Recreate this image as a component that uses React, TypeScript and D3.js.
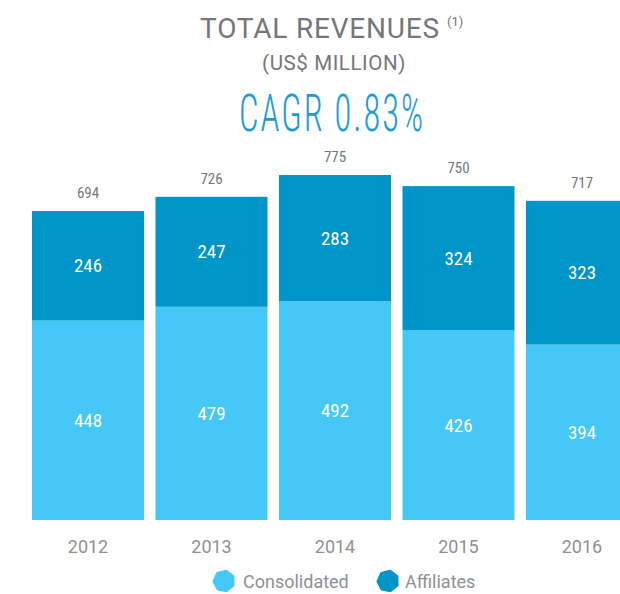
import React from "react";
import * as d3 from "d3";

const years = ["2012", "2013", "2014", "2015", "2016"];
const consolidated = [448, 479, 492, 426, 394];
const affiliates = [246, 247, 283, 324, 323];
const totals = [694, 726, 775, 750, 717];
const seriesNames = ["Consolidated", "Affiliates"];

const W = 620;
const H = 594;
const LIGHT = "#45C8F5";
const DARK = "#0095C8";
const GRAY = "#75767a";
const LGRAY = "#8f9094";
const COND = "'Roboto Condensed', 'Liberation Sans Narrow', 'DejaVu Sans Condensed', Roboto, sans-serif";

function heptagon(cx: number, cy: number, r: number) {
  const pts: [number, number][] = [];
  for (let i = 0; i < 7; i++) {
    const a = -Math.PI / 2 + (i * 2 * Math.PI) / 7 + 0.2;
    pts.push([cx + r * Math.cos(a), cy + r * Math.sin(a)]);
  }
  return pts.map((p) => p.join(",")).join(" ");
}

export default function App() {
  const x = d3.scaleBand<string>().domain(years).range([32, 638]).paddingInner(0.093).paddingOuter(0);
  const y = d3.scaleLinear().domain([0, 775]).range([520, 175]);
  const bw = x.bandwidth();

  const rows = years.map((yr, i) => ({ yr, c: consolidated[i], a: affiliates[i], t: totals[i] }));
  const stack = d3.stack<any>().keys(["c", "a"])(rows);

  return (
    <svg width={W} height={H} style={{ position: "absolute", left: 0, top: 0, background: "#fff" }} fontFamily="Roboto, sans-serif">
      <text x={320} y={38} textAnchor="middle" fontSize={28} letterSpacing={0.8} fill={GRAY}>TOTAL REVENUES</text>
      <text x={447} y={26} fontSize={13} fill={GRAY}>(1)</text>
      <text x={334} y={70} textAnchor="middle" fontSize={20.5} letterSpacing={0.6} fill={GRAY}>(US$ MILLION)</text>
      <text x={332} y={131} textAnchor="middle" fontSize={52} fill="#1A9AD6" fontFamily={COND} fontWeight={300} letterSpacing={3}
        textLength={186} lengthAdjust="spacingAndGlyphs">CAGR 0.83%</text>

      {stack.map((layer, li) => (
        <g key={li} fill={li === 0 ? LIGHT : DARK}>
          {layer.map((d, i) => (
            <rect key={i} x={x(years[i])} y={y(d[1])} width={bw} height={y(d[0]) - y(d[1])} />
          ))}
        </g>
      ))}
      {stack.map((layer, li) => (
        <g key={"l" + li}>
          {layer.map((d, i) => (
            <text key={i} x={(x(years[i]) as number) + bw / 2} y={(y(d[0]) + y(d[1])) / 2} dy="0.35em"
              textAnchor="middle" fontSize={19} fill="#fff" fontFamily={COND}>
              {li === 0 ? consolidated[i] : affiliates[i]}
            </text>
          ))}
        </g>
      ))}
      {rows.map((r, i) => (
        <text key={"t" + i} x={(x(r.yr) as number) + bw / 2} y={y(r.t) - 13} textAnchor="middle" fontSize={15}
          fill={GRAY} fontFamily={COND}>{r.t}</text>
      ))}
      {years.map((yr) => (
        <text key={yr} x={(x(yr) as number) + bw / 2} y={553} textAnchor="middle" fontSize={18} fill={LGRAY}>{yr}</text>
      ))}

      <polygon points={heptagon(224, 581, 10)} fill={LIGHT} stroke={LIGHT} strokeWidth={3} strokeLinejoin="round" />
      <text x={243} y={588} fontSize={18} fill={LGRAY}>{seriesNames[0]}</text>
      <polygon points={heptagon(388, 581, 10)} fill={DARK} stroke={DARK} strokeWidth={3} strokeLinejoin="round" />
      <text x={405} y={588} fontSize={18} fill={LGRAY}>{seriesNames[1]}</text>
    </svg>
  );
}
